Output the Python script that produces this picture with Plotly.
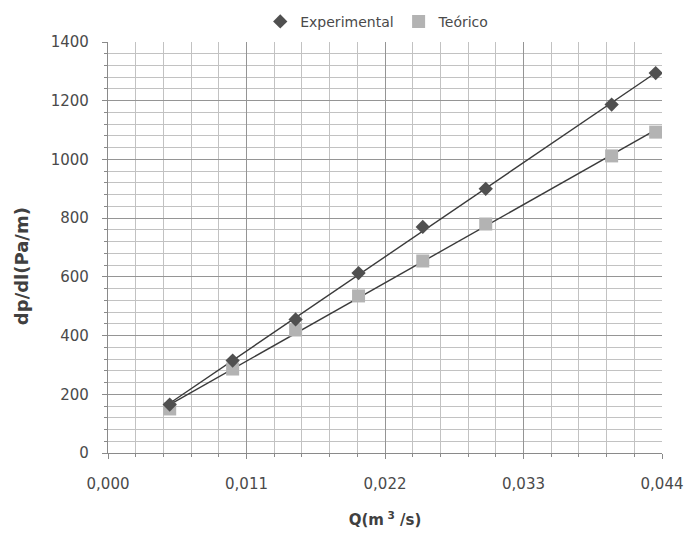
import numpy as np
import plotly.graph_objects as go

# Data
q_values = [0.0049, 0.0099, 0.0149, 0.0199, 0.0250, 0.0300, 0.0400, 0.0435]
exp_values = [165, 315, 455, 613, 770, 900, 1187, 1294]
teo_values = [150, 286, 419, 535, 654, 780, 1012, 1093]

x_ticks = [0.0, 0.011, 0.022, 0.033, 0.044]
y_ticks = [0, 200, 400, 600, 800, 1000, 1200, 1400]

FONT = "'DejaVu Sans', sans-serif"

fig = go.Figure()

# Linear trendlines (least squares, like the spreadsheet trendline)
xq = np.array(q_values)
xline = np.array([xq.min(), xq.max()])
for ys in (exp_values, teo_values):
    m, b = np.polyfit(xq, np.array(ys, dtype=float), 1)
    fig.add_trace(go.Scatter(
        x=xline, y=m * xline + b, mode="lines",
        line=dict(color="#3a3a3a", width=1.4),
        showlegend=False, hoverinfo="skip"))

fig.add_trace(go.Scatter(
    x=q_values, y=teo_values, mode="markers", name="Teórico",
    marker=dict(symbol="square", size=13, color="#b3b3b3")))
fig.add_trace(go.Scatter(
    x=q_values, y=exp_values, mode="markers", name="Experimental",
    marker=dict(symbol="diamond", size=11, color="#505050")))

fig.update_layout(
    width=685, height=536,
    margin=dict(l=108, r=23, t=42, b=83, autoexpand=False),
    paper_bgcolor="white", plot_bgcolor="white",
    separators=",.",
    font=dict(family=FONT, size=15, color="#4a4a4a"),
    legend=dict(orientation="h", x=0.486, xanchor="center", y=1.049,
                yanchor="middle", traceorder="reversed",
                font=dict(size=14, color="#4a4a4a"),
                itemwidth=30, tracegroupgap=0),
)

fig.update_xaxes(
    range=[0, 0.044], tickvals=x_ticks, tickformat=".3f",
    showgrid=True, gridcolor="#959595", gridwidth=1.3,
    showline=True, linecolor="#8a8a8a", linewidth=1.3, mirror=False,
    ticks="outside", ticklen=5, tickcolor="#8a8a8a",
    ticklabelstandoff=12,
    minor=dict(dtick=0.0022, showgrid=True, gridcolor="#c2c2c2",
               gridwidth=1, ticks="outside", ticklen=3, tickcolor="#8a8a8a"),
    zeroline=False,
    title=dict(text="<b>Q(m<sup> 3</sup> /s)</b>", font=dict(size=15, color="#404040"),
               standoff=22),
    tickfont=dict(size=15, color="#4a4a4a"),
)
fig.update_yaxes(
    range=[0, 1400], tickvals=y_ticks,
    showgrid=True, gridcolor="#959595", gridwidth=1.3,
    showline=True, linecolor="#8a8a8a", linewidth=1.3,
    ticks="outside", ticklen=5, tickcolor="#8a8a8a",
    ticklabelstandoff=10,
    minor=dict(dtick=40, showgrid=True, gridcolor="#c2c2c2",
               gridwidth=1, ticks="outside", ticklen=3, tickcolor="#8a8a8a"),
    zeroline=False,
    tickfont=dict(size=15, color="#4a4a4a"),
)

# y-axis title, placed a little below the plot centre as in the reference
fig.add_annotation(
    text="<b>dp/dl(Pa/m)</b>", textangle=-90, showarrow=False,
    xref="paper", yref="paper", x=-0.155, y=0.455,
    xanchor="center", yanchor="middle",
    font=dict(size=18, color="#404040"))

fig.write_html("out.html", config={"displayModeBar": False},
               post_script="document.body.style.margin='0';")
